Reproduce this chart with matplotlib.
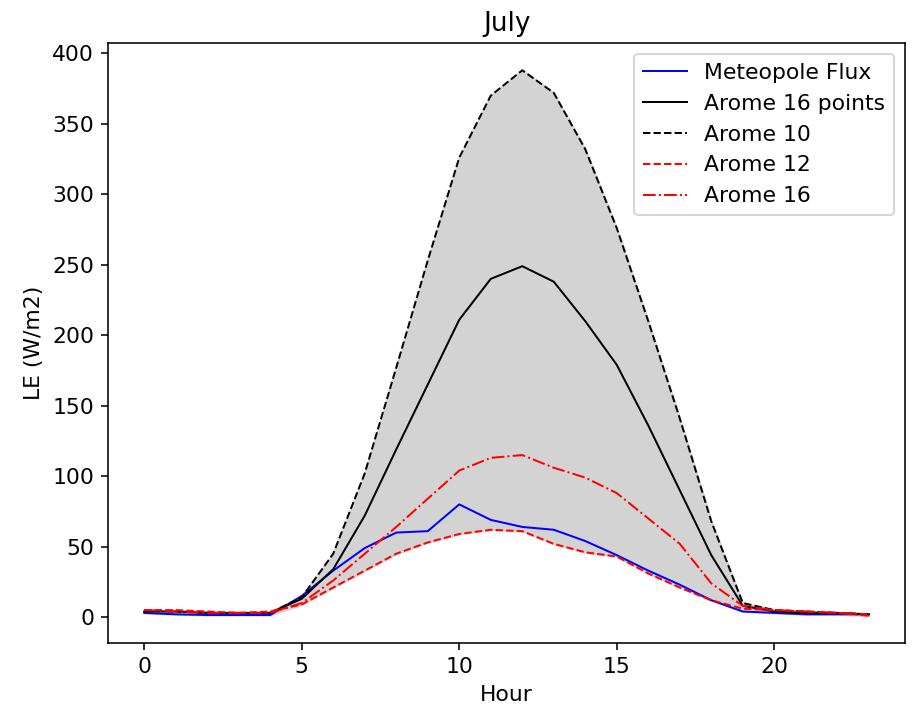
import numpy as np
import matplotlib
matplotlib.use("Agg")
import matplotlib.pyplot as plt

hours = list(range(24))
meteopole = [3, 2, 1.5, 1.5, 1.5, 15, 33, 49, 60, 61, 80, 69, 64, 62, 54, 44, 33, 23, 12, 4, 3, 2, 2, 2]
arome16pts = [4, 4, 3, 3, 3, 13, 34, 72, 119, 165, 211, 240, 249, 238, 210, 179, 136, 90, 44, 8, 4, 3, 3, 2]
arome10 = [5, 4, 3, 3, 3, 14, 45, 102, 177, 253, 326, 370, 388, 372, 332, 276, 210, 141, 68, 10, 5, 4, 3, 2]
arome12 = [5, 5, 4, 3, 4, 9, 21, 33, 45, 53, 59, 62, 61, 52, 46, 43, 31, 21, 12, 6, 5, 4, 3, 2]
arome16 = [5, 4, 3, 3, 3, 10, 26, 45, 64, 84, 104, 113, 115, 106, 99, 88, 70, 52, 24, 8, 5, 4, 3, 1]

plt.rcParams['font.size'] = 11

fig = plt.figure(figsize=(916/143, 711/143), dpi=143)
ax = fig.add_axes([108/916, 1-643/711, (905-108)/916, (643-43)/711])

stack = np.array([arome16pts, arome10, arome12, arome16, meteopole])
lo = stack.min(axis=0)
hi = stack.max(axis=0)
ax.fill_between(hours, lo, hi, color='lightgrey')

lw = 1.0
ax.plot(hours, meteopole, color='blue', lw=lw, label='Meteopole Flux')
ax.plot(hours, arome16pts, color='black', lw=lw, label='Arome 16 points')
ax.plot(hours, arome10, color='black', ls='--', lw=lw, label='Arome 10')
ax.plot(hours, arome12, color='red', ls='--', lw=lw, label='Arome 12')
ax.plot(hours, arome16, color='red', ls='-.', lw=lw, label='Arome 16')

ax.set_title('July')
ax.set_xlabel('Hour')
ax.set_ylabel('LE (W/m2)')
ax.set_yticks(range(0, 401, 50))
ax.legend(loc='upper right')

fig.savefig('out.png', dpi=143)
